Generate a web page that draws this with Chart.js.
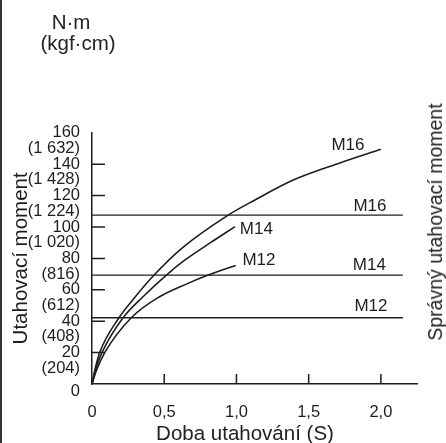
<!DOCTYPE html>
<html>
<head>
<meta charset="utf-8">
<script src="https://cdn.jsdelivr.net/npm/chart.js@4.4.1/dist/chart.umd.min.js"></script>
<style>
  html, body { margin: 0; padding: 0; background: #fff; }
  #wrap { position: relative; width: 446px; height: 443px; overflow: hidden; font-family: "Liberation Sans", Arial, sans-serif; color: #222; }
  #wrap canvas { position: absolute; left: 0; top: 0; }
  #edge { position: absolute; left: 0; top: 0; width: 2px; height: 443px; background: #333; }
  .txt { position: absolute; white-space: nowrap; font-size: 20.5px; line-height: 21px; text-align: center; }
  #unitNm { left: 0; width: 142px; top: 10.7px; }
  #unitKgf { left: 0; width: 156px; top: 31.7px; }
  #xTitle { left: 145px; width: 200px; top: 421.5px; }
  #rightTitle { left: 435px; top: 222px; font-size: 19.5px; line-height: 20px; transform: translate(-50%, -50%) rotate(-90deg); }
</style>
</head>
<body>
<div id="wrap">
  <canvas id="torqueChart" width="446" height="443"></canvas>
  <div id="edge"></div>
  <div class="txt" id="unitNm">N·m</div>
  <div class="txt" id="unitKgf">(kgf·cm)</div>
  <div class="txt" id="xTitle">Doba utahování (S)</div>
  <div class="txt" id="rightTitle">Správný utahovací moment</div>
</div>
<script>
// osa X - doba utahovani (s)
const xTicks = [0, 0.5, 1.0, 1.5, 2.0];
const xTickLabels = ["0", "0,5", "1,0", "1,5", "2,0"];
const xTickMarks = [0.5, 1.0, 1.5, 2.0];

// osa Y - moment N·m a kgf·cm
const yTicks = [0, 20, 40, 60, 80, 100, 120, 140, 160];
const yTicksKgf = ["", "(204)", "(408)", "(612)", "(816)", "(1 020)", "(1 224)", "(1 428)", "(1 632)"];
const yTickMarks = [20, 40, 60, 80, 100, 120, 140];

// krivky utahovani
const m16Time = [0, 0.02, 0.053, 0.187, 0.3, 0.43, 0.621, 0.943, 1.128, 1.393, 1.716, 2.0];
const m16Torque = [0, 9, 20, 42.2, 55.6, 69.4, 86.4, 107.6, 117.2, 129.9, 140.8, 149.5];
const m14Time = [0, 0.022, 0.069, 0.215, 0.353, 0.515, 0.644, 0.82, 0.99];
const m14Torque = [0, 8.5, 20, 42.2, 55.6, 69.4, 79, 90, 100.2];
const m12Time = [0, 0.03, 0.088, 0.272, 0.468, 0.664, 0.805, 0.995];
const m12Torque = [0, 8.5, 20, 42.2, 55.6, 64.1, 69.4, 75.5];

// spravny utahovaci moment
const specNames = ["M16", "M14", "M12"];
const specTorque = [107.6, 69.4, 42.2];
const specEnd = 2.152;

// popisky (hodnoty v jednotkach os)
const curveLabels = [
  { text: "M16", x: 1.772, y: 152.2 },
  { text: "M14", x: 1.138, y: 98.7 },
  { text: "M12", x: 1.156, y: 78.7 },
];
const specLabels = [
  { text: "M16", x: 1.924, y: 113.1 },
  { text: "M14", x: 1.920, y: 75.5 },
  { text: "M12", x: 1.931, y: 49.4 },
];

const INK = "#1e1e1e";
const FONT = "'Liberation Sans', Arial, sans-serif";

function toPoints(xs, ys) {
  return xs.map((x, i) => ({ x, y: ys[i] }));
}

function curve(label, xs, ys) {
  return {
    label,
    data: toPoints(xs, ys),
    borderColor: INK,
    borderWidth: 1.6,
    pointRadius: 0,
    cubicInterpolationMode: "monotone",
    fill: false,
  };
}

const datasets = [
  curve("M16", m16Time, m16Torque),
  curve("M14", m14Time, m14Torque),
  curve("M12", m12Time, m12Torque),
];
specNames.forEach((name, i) => {
  datasets.push({
    label: "spec " + name,
    data: [{ x: 0, y: specTorque[i] }, { x: specEnd, y: specTorque[i] }],
    borderColor: INK,
    borderWidth: 1.3,
    pointRadius: 0,
    tension: 0,
  });
});

// kratke carky dovnitr grafu a popisky krivek
const innerTicksAndLabels = {
  id: "innerTicksAndLabels",
  afterDatasetsDraw(chart) {
    const { ctx, scales } = chart;
    const xs = scales.x, ys = scales.y;
    ctx.save();
    ctx.strokeStyle = INK;
    ctx.lineWidth = 1.5;
    ctx.beginPath();
    xTickMarks.forEach((v) => {
      const px = xs.getPixelForValue(v);
      ctx.moveTo(px, ys.bottom);
      ctx.lineTo(px, ys.bottom - 10);
    });
    yTickMarks.forEach((v) => {
      const py = ys.getPixelForValue(v);
      ctx.moveTo(xs.left, py);
      ctx.lineTo(xs.left + 13, py);
    });
    ctx.stroke();

    ctx.fillStyle = INK;
    ctx.font = "17px " + FONT;
    ctx.textAlign = "center";
    ctx.textBaseline = "middle";
    curveLabels.concat(specLabels).forEach((l) => {
      ctx.fillText(l.text, xs.getPixelForValue(l.x), ys.getPixelForValue(l.y));
    });
    ctx.restore();
  },
};

new Chart(document.getElementById("torqueChart"), {
  type: "line",
  data: { datasets },
  options: {
    responsive: false,
    animation: false,
    events: [],
    layout: { padding: { left: 0, top: 132.8, right: 29, bottom: 0 } },
    plugins: { legend: { display: false }, tooltip: { enabled: false } },
    scales: {
      x: {
        type: "linear",
        min: 0,
        max: 2.25,
        afterFit: (s) => { s.height = 59; },
        afterBuildTicks: (s) => { s.ticks = xTicks.map((v) => ({ value: v })); },
        grid: { display: false },
        border: { display: true, color: INK, width: 1.5 },
        ticks: {
          color: INK,
          padding: 11,
          maxRotation: 0,
          autoSkip: false,
          font: { family: FONT, size: 16.5 },
          callback: (v) => xTickLabels[xTicks.indexOf(v)],
        },
      },
      y: {
        type: "linear",
        min: 0,
        max: 160,
        afterFit: (s) => { s.width = 92; },
        afterBuildTicks: (s) => { s.ticks = yTicks.map((v) => ({ value: v })); },
        grid: { display: false },
        border: { display: true, color: INK, width: 1.5 },
        ticks: {
          color: INK,
          padding: 4,
          labelOffset: 7.8,
          autoSkip: false,
          font: { family: FONT, size: 16.5, lineHeight: 0.95 },
          callback: (v) => {
            const i = yTicks.indexOf(v);
            return yTicksKgf[i] ? [String(v), yTicksKgf[i]] : String(v);
          },
        },
        title: {
          display: true,
          text: "Utahovací moment",
          color: INK,
          font: { family: FONT, size: 20.5, lineHeight: 1 },
          padding: { top: 10.75, bottom: 0 },
        },
      },
    },
  },
  plugins: [innerTicksAndLabels],
});
</script>
</body>
</html>
